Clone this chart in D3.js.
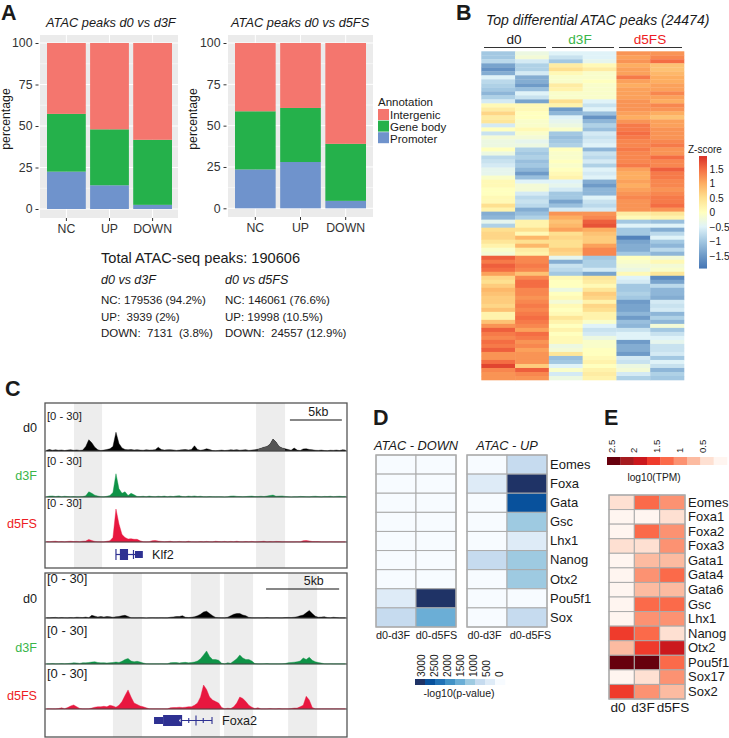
<!DOCTYPE html>
<html><head><meta charset="utf-8">
<script src="https://cdn.jsdelivr.net/npm/d3@7/dist/d3.min.js"></script>
<style>
html,body{margin:0;padding:0;background:#fff}
svg{display:block}
text{font-family:"Liberation Sans",Arial,sans-serif;fill:#1a1a1a;white-space:pre}
</style></head><body>
<svg id="c" width="729" height="738"></svg>
<script>
// ---- Panel A data
const barCats = ["NC","UP","DOWN"];
const annoNames = ["Intergenic","Gene body","Promoter"];
const annoColors = ["#F4766E","#25B14B","#6F93CC"];
const promoterD3F = [22.5,14.3,2.5];
const geneBodyD3F = [34.8,33.7,39.2];
const intergenicD3F = [42.7,52,58.3];
const promoterD5FS = [23.5,28,4.5];
const geneBodyD5FS = [35.2,32.7,34.5];
const intergenicD5FS = [41.3,39.3,61];
const pctTicks = [0,25,50,75,100];

// ---- Panel B data: columns d0,d0,d3F,d3F,d5FS,d5FS
const heatRows = [
[-1.0,-0.3,-0.5,-0.5,1.2,1.2],[-1.0,-0.2,-0.7,-0.5,1.1,1.3],[-0.8,-0.6,-1.0,-0.4,1.2,1.5],[-1.4,-0.9,0.3,0.1,1.0,0.8],
[-1.6,-0.9,0.5,0.3,1.1,0.8],[-1.3,-0.6,0.1,-0.1,1.1,0.9],[-0.5,-1.3,-0.1,-0.1,1.4,1.0],[-0.8,-1.3,-0.1,0,1.1,1.0],
[-0.9,-1.5,0.3,-0.1,1.0,1.1],[-1.0,-1.1,0.2,-0.1,1.1,1.1],[-1.2,-0.5,-0.1,-0.1,1.1,1.3],[-0.9,-0.7,-0.1,-0.1,1.1,1.1],
[-0.6,-1.4,0.5,-0.5,1.2,1.0],[0.1,0.1,0.2,-0.7,1.2,1.3],[0.3,0.1,-1.5,-0.5,1.2,1.2],[0.6,0,-1.2,-1.1,1.1,1.0],
[0.3,0,-0.5,-1.6,1.0,0.8],[0.4,-0.1,-0.4,-1.2,1.2,1.1],[-0.6,-0.1,-0.3,-0.9,1.4,1.1],[0,0.1,-0.1,-1.1,1.4,1.2],
[-0.7,-0.1,-1.0,-0.6,1.5,1.2],[-0.2,-0.2,-1.1,-0.7,1.4,1.2],[-0.3,-0.4,-1.0,-0.6,1.3,1.3],[-0.3,-0.3,-0.9,-0.5,1.3,1.4],
[0,-0.9,0,-1.2,1.4,1.2],[-0.3,-1.0,-0.1,-0.7,1.3,1.2],[-0.8,-0.9,-0.1,-0.8,1.3,1.5],[-0.7,-1.1,0,-0.6,1.3,1.3],
[-0.6,-1.0,-0.1,-0.9,1.4,1.3],[-0.4,-1.2,0,-0.5,1.1,1.6],[-0.4,-1.5,0.1,-0.6,1.0,1.4],[-0.1,-1.1,0.2,-0.5,1.0,1.4],
[0.1,-0.5,-0.5,-1.3,1.1,1.3],[0.1,-0.2,-0.4,-1.5,1.0,1.3],[0,-0.2,-0.6,-1.2,1.1,1.2],[0,-0.6,-1.0,-1.2,1.2,1.3],
[0.1,-0.8,-1.0,-0.5,1.3,1.4],[0.1,-0.7,-1.4,-0.7,1.2,1.4],[0.5,-0.8,-1.1,-0.8,1.2,1.5],[0.2,-1.3,-0.6,-0.6,1.2,1.2],
[-1.3,-1.1,1.2,1.2,0.3,0.4],[-1.2,-0.9,1.0,1.3,0.1,0.2],[-0.4,0.2,0.8,1.6,-1.0,-1.1],[-0.9,0.2,0.9,1.7,-0.5,-0.5],
[0.5,0.5,1.1,1.0,-1.0,-1.3],[0.6,0.1,0.5,0.8,-1.0,-0.8],[0.6,0.9,0.6,0.7,-1.8,-0.5],[0.4,0.5,0.5,0.7,-1.4,-1.0],
[0.2,0.9,0.5,1.1,-1.3,-1.2],[-0.1,0.3,0.7,1.3,-1.3,-0.8],[-0.2,0.2,0.6,1.3,-1.0,-1.2],[1.6,1.3,-0.4,-1.0,0,-0.2],
[1.4,1.3,-1.3,-0.9,-0.1,0.1],[1.6,1.4,-0.7,-0.9,-0.2,-0.2],[1.5,1.3,-0.8,-0.6,-0.3,-0.1],[1.1,0.8,-1.0,-1.4,0.1,0.4],
[0.6,1.3,0.1,0.4,-0.5,-1.7],[0.5,1.5,0,0.3,-0.6,-1.4],[0.7,1.5,0,0.1,-1.0,-0.8],[0.9,1.3,-0.3,0.4,-1.0,-1.2],
[0.8,1.3,0,0.7,-0.9,-1.2],[0.7,1.2,0.1,0.6,-1.0,-1.3],[0.7,1.3,-0.2,0.2,-1.5,-0.6],[0.6,1.4,0.1,0.6,-1.4,-0.7],
[0.8,1.3,0,0.5,-1.4,-0.6],[0.2,1.4,0.1,0.2,-1.2,-1.2],[0.2,1.5,0.4,0.2,-1.5,-0.9],[0.8,1.4,0.2,-0.1,-1.1,-1.2],
[1.2,1.3,0,-0.5,-1.2,-0.2],[1.6,1.1,0.2,-0.7,-0.7,-1.0],[1.4,1.5,0,-0.6,-0.5,-0.7],[1.3,1.4,0.1,-0.3,-0.5,-0.5],
[1.5,1.2,0.1,-0.1,-1.5,-0.4],[1.4,1.3,-0.3,-0.1,-1.3,-0.7],[1.6,1.1,-0.2,0,-1.3,-0.7],[1.2,1.2,0.4,0,-1.5,-0.6],
[1.2,1.2,-1.1,0.1,-0.6,-1.0],[1.5,1.2,-1.0,0.2,-0.7,-0.5],[1.8,0.7,-0.5,0,-0.3,-0.7],[1.3,1.6,-0.1,0.2,-0.2,-1.2],
[1.2,1.3,-0.6,0.3,-0.6,-0.9],[1.2,1.2,-0.3,0.2,-0.9,-1.0]];
const zTicks = [1.5,1,0.5,0,-0.5,-1,-1.5];
const zStops = [-1.95,-1.5,-1,-0.5,0,0.5,1,1.5,1.95];
const zColors = ["#4575B4","#6F9BC8","#A3C8E2","#E0F3F8","#FFFFBF","#FEE090","#FDAE61","#F46D43","#D73027"];

// ---- Panel C data: coverage per genome bin, 100 bins per locus
const klf2D0 = [.5,1,.5,.8,.5,.7,.3,.6,.8,.5,.7,.4,.6,3,7.5,5.5,2.5,.8,.3,.6,1,1.5,3,12.5,5,2,1,.8,1,.7,.9,.6,.5,.8,.6,.7,.9,2.5,1,.6,.8,.9,.7,.4,.6,.9,1,.7,1,3.5,1,.5,.8,1.5,1,.3,.2,.4,.6,.3,.5,.8,.6,.9,.5,.7,.9,.4,.6,.8,1.2,1.8,2.5,3,4.5,8,6,3,2,1.5,1,.5,2,.6,.3,1.4,1.5,1,.8,.5,.4,.6,.3,.2,.5,.4,.6,.3,.8,.6];
const klf2D3 = [.2,.6,.7,.3,.6,.2,.5,.3,.2,.3,.1,.2,.3,.8,3.5,2.5,1.2,.6,.2,.1,.5,1,3,15.5,5.5,2.5,3.5,1,2.5,1.5,.4,.3,.5,.2,.6,.3,.2,.5,.3,.6,.2,.5,.3,.7,.8,.3,.2,.6,.4,.7,.3,.5,.2,.1,.3,.2,.1,.2,.1,0,.2,.6,.7,.4,.3,.2,.3,.5,.6,.3,.3,.5,.3,.6,1,1.3,.5,.6,.7,.4,.2,0,.1,.1,.4,.3,.2,.1,.4,.5,.3,.1,.4,.3,.5,.2,.4,.5,.3,.4];
const klf2D5 = [.3,.2,.4,.5,.2,.3,.1,.4,.5,.3,.4,.2,.5,.6,1.7,1,.4,.2,.1,.1,.5,.8,3,22,12,5,3,2,2.2,1.8,1.8,.8,.2,.1,.2,.9,1,.6,.4,.2,.3,.5,.1,.2,.4,.2,.1,.5,.2,.1,.1,.3,.1,.4,.2,.1,.5,.3,.2,.4,.1,.4,.2,.5,.2,.1,.3,.2,.4,.1,.2,.3,.5,.1,.3,.2,.4,.3,.1,.2,.1,.1,.1,.2,.1,.9,1,.7,.3,.3,.3,.1,.1,.1,.2,.1,.1,.1,.1,.1];
const foxaD0 = [.2,.1,.3,.4,.1,.3,.2,.1,.3,.2,.5,.4,.3,.6,.2,1.8,1.2,.7,1,.6,1,.8,.5,.8,1,1.5,1.8,1,.2,.1,.1,.2,.1,0,.1,.2,.1,.1,.2,.1,.1,.5,.7,1,1,1.5,.5,.3,.5,.8,1.5,2.5,4,4.5,3,1.5,.4,.2,.1,.1,.5,1.5,2.5,3,3,2,1.5,.4,.2,.1,.2,.1,.1,.3,.1,.1,.2,.1,.1,.3,.4,.3,.5,.8,1.5,2,3.5,5,3,1.2,.5,.6,.8,.3,.2,.5,.3,.1,.1,.1];
const foxaD3 = [.1,.1,.3,.1,.2,.3,.2,.3,.5,.8,.7,.4,.9,.8,1,1.3,1.5,1,.8,.9,.7,.9,1,1.3,1,1.8,3,3.7,2,1.5,1.8,1.3,.7,.2,.1,.1,.1,.1,.2,.1,.1,.9,1,1,.7,1,1.1,.8,1,1.3,2,3.5,6,8.7,5,3,3,2.5,.5,.1,.8,.5,2,3.5,6,4,3,3,2,.3,.1,.1,.2,.3,.1,.1,.1,.1,.2,.3,.8,1,1.2,1.5,2,4,3,4.5,2.5,1.5,1,.6,.2,.1,.2,.1,.1,.1,.1,.1];
const foxaD5 = [.1,.2,.1,.1,.3,.8,.2,1,2,2.7,1.5,.4,.1,.1,.2,.6,1.2,1.5,1.5,1.8,1.5,2.5,2,1.2,2.5,5,9,12.7,8,4,3,2,1.5,.8,.2,.1,.1,.1,.1,.1,.1,.8,1,1,1.2,1,1.2,1.5,1.5,2.5,4,8,16,13,8,6,5,4,1,.2,.5,.3,1.5,4,8,7,5,2.5,1.2,.3,.8,.1,.1,.1,.3,.2,.1,.3,.1,.2,.1,.3,.6,.6,1.5,2.5,8.5,6,1,.1,.1,.1,.1,.1,.1,.1,.1,.1,.1,.1];
const klf2Bands = [[9.6,18.9],[69.9,79.5]];
const foxaBands = [[22.5,32.1],[48.3,57.9],[59.3,68.9],[80.5,90.1]];
const trackNames = ["d0","d3F","d5FS"];
const trackColors = ["#000000","#0E9347","#E8173F"];
const labelColors = ["#1a1a1a","#39B54A","#ED1C24"];

// ---- Panel D data
const motifs = ["Eomes","Foxa","Gata","Gsc","Lhx1","Nanog","Otx2","Pou5f1","Sox"];
const compCols = ["d0-d3F","d0-d5FS"];
const downD3F = [0,0,0,0,0,0,0,500,850];
const downD5FS = [0,0,0,0,0,0,0,3300,1700];
const upD3F = [0,500,0,0,0,850,0,0,0];
const upD5FS = [850,3300,2900,1300,500,1300,1300,0,850];
const blues = ["#F7FBFF","#DEEBF7","#C6DBEF","#9ECAE1","#6BAED6","#4292C6","#2171B5","#08519C","#1F3366"];
const pvalTicks = [3000,2500,2000,1500,1000,500,0];

// ---- Panel E data
const genes = ["Eomes","Foxa1","Foxa2","Foxa3","Gata1","Gata4","Gata6","Gsc","Lhx1","Nanog","Otx2","Pou5f1","Sox17","Sox2"];
const tpmD0 = [.4,.1,.1,.4,.1,.1,.1,.1,.1,1.6,.75,2.5,.1,1.6];
const tpmD3F = [1.3,.1,1.3,.4,.75,1,.75,1.3,1,1.3,1.6,2.5,.4,1];
const tpmD5FS = [1,.4,1,1,.75,1.3,.75,1.3,1,.4,1.9,1.3,1,.75];
const reds = ["#FFF5F0","#FEE0D2","#FCBBA1","#FC9272","#FB6A4A","#EF3B2C","#CB181D","#A51C20","#67000D"];
const tpmTicks = [2.5,2,1.5,1,0.5];

const svg = d3.select("#c");
function txt(g,x,y,s,size,opt={}){
  const t=g.append("text").attr("x",x).attr("y",y).attr("font-size",size).text(s);
  if(opt.anchor)t.attr("text-anchor",opt.anchor);
  if(opt.italic)t.attr("font-style","italic");
  if(opt.bold)t.attr("font-weight","bold");
  if(opt.fill)t.style("fill",opt.fill);
  if(opt.rotate)t.attr("transform",`rotate(-90 ${x} ${y})`);
  return t;
}
// Panel letters
[["A",1,19.6],["B",456,19.6],["C",5,396],["D",373,425],["E",604,425]].forEach(d=>txt(svg,d[1],d[2],d[0],21.5,{bold:true}));

// ---- Panel A
function stacked(rect,yr,bars,title,titleX,vals,labX){
  const g=svg.append("g");
  const [x0,x1,y0,y1]=rect;
  g.append("rect").attr("x",x0).attr("y",y0).attr("width",x1-x0).attr("height",y1-y0).attr("fill","#EBEBEB");
  const y=d3.scaleLinear().domain([0,100]).range(yr);
  const x=d3.scaleBand().domain(barCats).range(bars).paddingInner(0.1).paddingOuter(0);
  pctTicks.forEach(t=>{
    g.append("line").attr("x1",x0).attr("x2",x1).attr("y1",y(t)).attr("y2",y(t)).attr("stroke","#fff").attr("stroke-width",1);
    if(t<100)g.append("line").attr("x1",x0).attr("x2",x1).attr("y1",y(t+12.5)).attr("y2",y(t+12.5)).attr("stroke","#fff").attr("stroke-width",.5);
  });
  barCats.forEach(c=>g.append("line").attr("x1",x(c)+x.bandwidth()/2).attr("x2",x(c)+x.bandwidth()/2).attr("y1",y0).attr("y2",y1).attr("stroke","#fff"));
  barCats.forEach((c,i)=>{
    let acc=0;
    [[vals[0][i],annoColors[2]],[vals[1][i],annoColors[1]],[vals[2][i],annoColors[0]]].forEach(([v,col])=>{
      g.append("rect").attr("x",x(c)).attr("width",x.bandwidth()).attr("y",y(acc+v)).attr("height",y(acc)-y(acc+v)).attr("fill",col);
      acc+=v;
    });
  });
  const ay=g.append("g").attr("transform",`translate(${x0-1.5},0)`).call(d3.axisLeft(y).tickValues(pctTicks).tickSize(3).tickPadding(3));
  const ax=g.append("g").attr("transform",`translate(0,${y1})`).call(d3.axisBottom(x).tickSize(3).tickPadding(3));
  [ay,ax].forEach(a=>{a.select(".domain").remove();a.selectAll("line").attr("stroke","#333");a.selectAll("text").attr("font-size",12.3).attr("font-family","Liberation Sans").style("fill","#333");});
  ax.selectAll("text").attr("dy","0.72em");
  txt(g,labX,119,"percentage",12.3,{anchor:"middle",rotate:true});
  txt(g,titleX,27,title,12.8,{italic:true});
}
stacked([40,178,35,218],[209,43],[47,172],"ATAC peaks d0 vs d3F",46,[promoterD3F,geneBodyD3F,intergenicD3F],10);
stacked([228,373,35,217],[208.3,43],[235,366],"ATAC peaks d0 vs d5FS",231,[promoterD5FS,geneBodyD5FS,intergenicD5FS],197);

// Legend
const lg=svg.append("g");
txt(lg,378,106,"Annotation",11.5);
annoNames.forEach((n,i)=>{
  lg.append("rect").attr("x",378).attr("y",109+i*11.6).attr("width",11).attr("height",11).attr("fill",annoColors[i]);
  txt(lg,390,118.5+i*12,n,11.5);
});

// Text block
const tb=svg.append("g");
txt(tb,101,263,"Total ATAC-seq peaks: 190606",14.6);
txt(tb,101,284,"d0 vs d3F",12.5,{italic:true});
txt(tb,225,284,"d0 vs d5FS",12.5,{italic:true});
[["NC: 179536 (94.2%)",304],["UP:  3939 (2%)",321],["DOWN:  7131  (3.8%)",337]].forEach(d=>txt(tb,101,d[1],d[0],11.5));
[["NC: 146061 (76.6%)",304],["UP: 19998 (10.5%)",321],["DOWN:  24557 (12.9%)",337]].forEach(d=>txt(tb,225,d[1],d[0],11.5));

// ---- Panel B
const bg=svg.append("g");
const hx=d3.scaleBand().domain(d3.range(6)).range([481.3,684]);
const hy=d3.scaleBand().domain(d3.range(heatRows.length)).range([51.3,380]);
const zc=d3.scaleLinear().domain(zStops).range(zColors);
heatRows.forEach((r,i)=>r.forEach((v,j)=>{
  bg.append("rect").attr("x",hx(j)).attr("y",hy(i)).attr("width",hx.bandwidth()+.3).attr("height",hy.bandwidth()+.3).attr("fill",zc(v));
}));
txt(bg,486,25,"Top differential ATAC peaks (24474)",14,{italic:true});
[[484,546,514,"d0",0],[552,614,580,"d3F",1],[619,682,650,"d5FS",2]].forEach(d=>{
  bg.append("line").attr("x1",d[0]).attr("x2",d[1]).attr("y1",47.5).attr("y2",47.5).attr("stroke","#333").attr("stroke-width",1.2);
  txt(bg,d[2],44,d[3],13.6,{anchor:"middle",fill:labelColors[d[4]]});
});
const zy=d3.scaleLinear().domain([0,1.5]).range([212,168.5]);
const defs=svg.append("defs");
const lgz=defs.append("linearGradient").attr("id","zg").attr("x1",0).attr("x2",0).attr("y1",1).attr("y2",0);
zStops.forEach((s,i)=>lgz.append("stop").attr("offset",(s+1.95)/3.9).attr("stop-color",zColors[i]));
bg.append("rect").attr("x",699).attr("y",zy(1.93)).attr("width",8).attr("height",zy(-1.95)-zy(1.93)).attr("fill","url(#zg)");
txt(bg,688,153,"Z-score",10);
zTicks.forEach(t=>txt(bg,709.5,zy(t)+4,String(t).replace("-","\u2212"),10.2));

// ---- Panel C
const gx=d3.scaleLinear().domain([0,100]).range([45,347]);
function locus(top,bottom,bases,bandsArr,series,bracketLabels,scaleBar,scaleY,darkBand){
  const g=svg.append("g");
  bandsArr.forEach(b=>g.append("rect").attr("x",gx(b[0])).attr("width",gx(b[1])-gx(b[0])).attr("y",top).attr("height",bottom-top).attr("fill","#EDEDED"));
  series.forEach((vals,k)=>{
    const y=d3.scaleLinear().domain([0,30]).range([bases[k],bases[k]-45]);
    const area=d3.area().x((d,i)=>gx(i+.5)).y0(bases[k]).y1(d=>y(d));
    g.append("path").datum(vals).attr("d",area).attr("fill",trackColors[k]).attr("stroke",trackColors[k]).attr("stroke-width",.4);
    if(darkBand&&k===0){
      const idx=d3.range(70,80);
      g.append("path").datum(idx).attr("d",d3.area().x(i=>gx(i+.5)).y0(bases[k]).y1(i=>y(vals[i]))).attr("fill","#555");
    }
    g.append("line").attr("x1",45).attr("x2",347).attr("y1",bases[k]).attr("y2",bases[k]).attr("stroke","#444").attr("stroke-width",k===0?1.2:1);
  });
  g.append("rect").attr("x",45).attr("y",top).attr("width",302).attr("height",bottom-top).attr("fill","none").attr("stroke","#555").attr("stroke-width",1.3);
  bracketLabels.forEach(d=>txt(g,47,d[0],"[0 - 30]",d[1]));
  g.append("line").attr("x1",gx(scaleBar[0])).attr("x2",gx(scaleBar[1])).attr("y1",scaleY).attr("y2",scaleY).attr("stroke","#111").attr("stroke-width",1.2);
  txt(g,gx(scaleBar[2]),scaleY-4.5,"5kb",12.4,{anchor:"middle"});
  return g;
}
const gk=locus(403,568,[451,497,542],klf2Bands,[klf2D0,klf2D3,klf2D5],[[420,11.2],[465,11.2],[507,11.2]],[81.1,98.3,90.5],420,true);
[[432,0],[480,1],[528,2]].forEach(d=>txt(gk,37,d[0],trackNames[d[1]],12.6,{anchor:"end",fill:labelColors[d[1]]}));
const gf=locus(573,737,[618,664,709],foxaBands,[foxaD0,foxaD3,foxaD5],[[583,13],[635,13],[678,13]],[73.2,97.4,89],589,false);
[[603,0],[652,1],[700,2]].forEach(d=>txt(gf,37,d[0],trackNames[d[1]],12.6,{anchor:"end",fill:labelColors[d[1]]}));
const geneCol="#2E3192";
// Klf2 gene model (bin units)
[[24.8,27.5,11],[29.8,32.4,7]].forEach(e=>gk.append("rect").attr("x",gx(e[0])).attr("width",gx(e[1])-gx(e[0])).attr("y",554.5-e[2]/2).attr("height",e[2]).attr("fill",geneCol));
gk.append("line").attr("x1",gx(23.5)).attr("x2",gx(32)).attr("y1",554.5).attr("y2",554.5).attr("stroke",geneCol).attr("stroke-width",1.2);
gk.append("line").attr("x1",gx(23.5)).attr("x2",gx(23.5)).attr("y1",549).attr("y2",560).attr("stroke",geneCol).attr("stroke-width",1.2);
gk.append("line").attr("x1",gx(29.3)).attr("x2",gx(29.3)).attr("y1",550).attr("y2",559).attr("stroke",geneCol).attr("stroke-width",1.2);
txt(gk,152,559,"Klf2",12.6);
// Foxa2 gene model (bin units)
[[36.1,39.1,7],[39.1,45.4,11]].forEach(e=>gf.append("rect").attr("x",gx(e[0])).attr("width",gx(e[1])-gx(e[0])).attr("y",720.5-e[2]/2).attr("height",e[2]).attr("fill",geneCol));
gf.append("line").attr("x1",gx(45)).attr("x2",gx(55.3)).attr("y1",720.5).attr("y2",720.5).attr("stroke",geneCol).attr("stroke-width",1.1);
[[47.6,2.5],[50,5],[52.4,2.5],[55.3,3.5]].forEach(t=>gf.append("line").attr("x1",gx(t[0])).attr("x2",gx(t[0])).attr("y1",720.5-t[1]).attr("y2",720.5+t[1]).attr("stroke",geneCol).attr("stroke-width",1.1));
gf.append("path").attr("d",`M${gx(44.4)},720.5l1.5,-2v4z`).attr("fill","#fff");
txt(gf,222,725,"Foxa2",12.6);

// ---- Panel D
const dg=svg.append("g");
const dRows=d3.scaleBand().domain(motifs).range([455,627]);
const pc=d3.scaleQuantize().domain([0,3400]).range(blues);
function dGrid(x0,x1,a,b,title,cx,labCenters){
  const xs=d3.scaleBand().domain(compCols).range([x0,x1]);
  motifs.forEach((m,i)=>[a,b].forEach((arr,k)=>{
    dg.append("rect").attr("x",xs(compCols[k])).attr("y",dRows(m)).attr("width",xs.bandwidth()).attr("height",dRows.bandwidth()).attr("fill",pc(arr[i])).attr("stroke","#ABABAB").attr("stroke-width",1);
  }));
  dg.append("rect").attr("x",x0).attr("y",455).attr("width",x1-x0).attr("height",172).attr("fill","none").attr("stroke","#ABABAB").attr("stroke-width",1.3);
  compCols.forEach((c,k)=>txt(dg,labCenters[k],639,c,10.8,{anchor:"middle"}));
  txt(dg,cx,450,title,12.8,{italic:true,anchor:"middle"});
}
dGrid(376,456,downD3F,downD5FS,"ATAC - DOWN",416,[393,436.5]);
dGrid(467,547,upD3F,upD5FS,"ATAC - UP",507,[484.5,530.5]);
motifs.forEach(m=>txt(dg,550,dRows(m)+dRows.bandwidth()/2+4.3,m,13));
const pvx=d3.scaleLinear().domain([3000,0]).range([425,503]);
const dlx=d3.scaleBand().domain(d3.range(9)).range([415,505]);
[...blues].reverse().forEach((c,i)=>dg.append("rect").attr("x",dlx(i)).attr("y",679).attr("width",dlx.bandwidth()+.3).attr("height",6).attr("fill",c));
pvalTicks.forEach(t=>txt(dg,pvx(t),677,String(t),10.2,{rotate:true}));
txt(dg,459,697,"-log10(p-value)",10.6,{anchor:"middle"});

// ---- Panel E
const eg=svg.append("g");
const eCols=["d0","d3F","d5FS"];
const eSeries=[tpmD0,tpmD3F,tpmD5FS];
const ex=d3.scaleBand().domain(eCols).range([609,685]);
const ey=d3.scaleBand().domain(genes).range([495,699]);
const rc=d3.scaleQuantize().domain([0,2.7]).range(reds);
genes.forEach((gn,i)=>eCols.forEach((c,k)=>{
  eg.append("rect").attr("x",ex(c)).attr("y",ey(gn)).attr("width",ex.bandwidth()).attr("height",ey.bandwidth()).attr("fill",rc(eSeries[k][i])).attr("stroke","#ABABAB").attr("stroke-width",1);
}));
eg.append("rect").attr("x",609).attr("y",495).attr("width",76).attr("height",204).attr("fill","none").attr("stroke","#ABABAB").attr("stroke-width",1.3);
genes.forEach(gn=>txt(eg,688,ey(gn)+ey.bandwidth()/2+4.3,gn,13));
[[618,"d0"],[643,"d3F"],[673,"d5FS"]].forEach(d=>txt(eg,d[0],712,d[1],13.6,{anchor:"middle"}));
const elx=d3.scaleBand().domain(d3.range(9)).range([607,727]);
[...reds].reverse().forEach((c,i)=>eg.append("rect").attr("x",elx(i)).attr("y",457).attr("width",elx.bandwidth()+.3).attr("height",8).attr("fill",c));
const tpx=d3.scaleLinear().domain([2.5,0.5]).range([614.5,705.5]);
tpmTicks.forEach(t=>txt(eg,tpx(t),453,String(t),9.6,{rotate:true}));
txt(eg,654,481,"log10(TPM)",10.2,{anchor:"middle"});
</script>
</body></html>
